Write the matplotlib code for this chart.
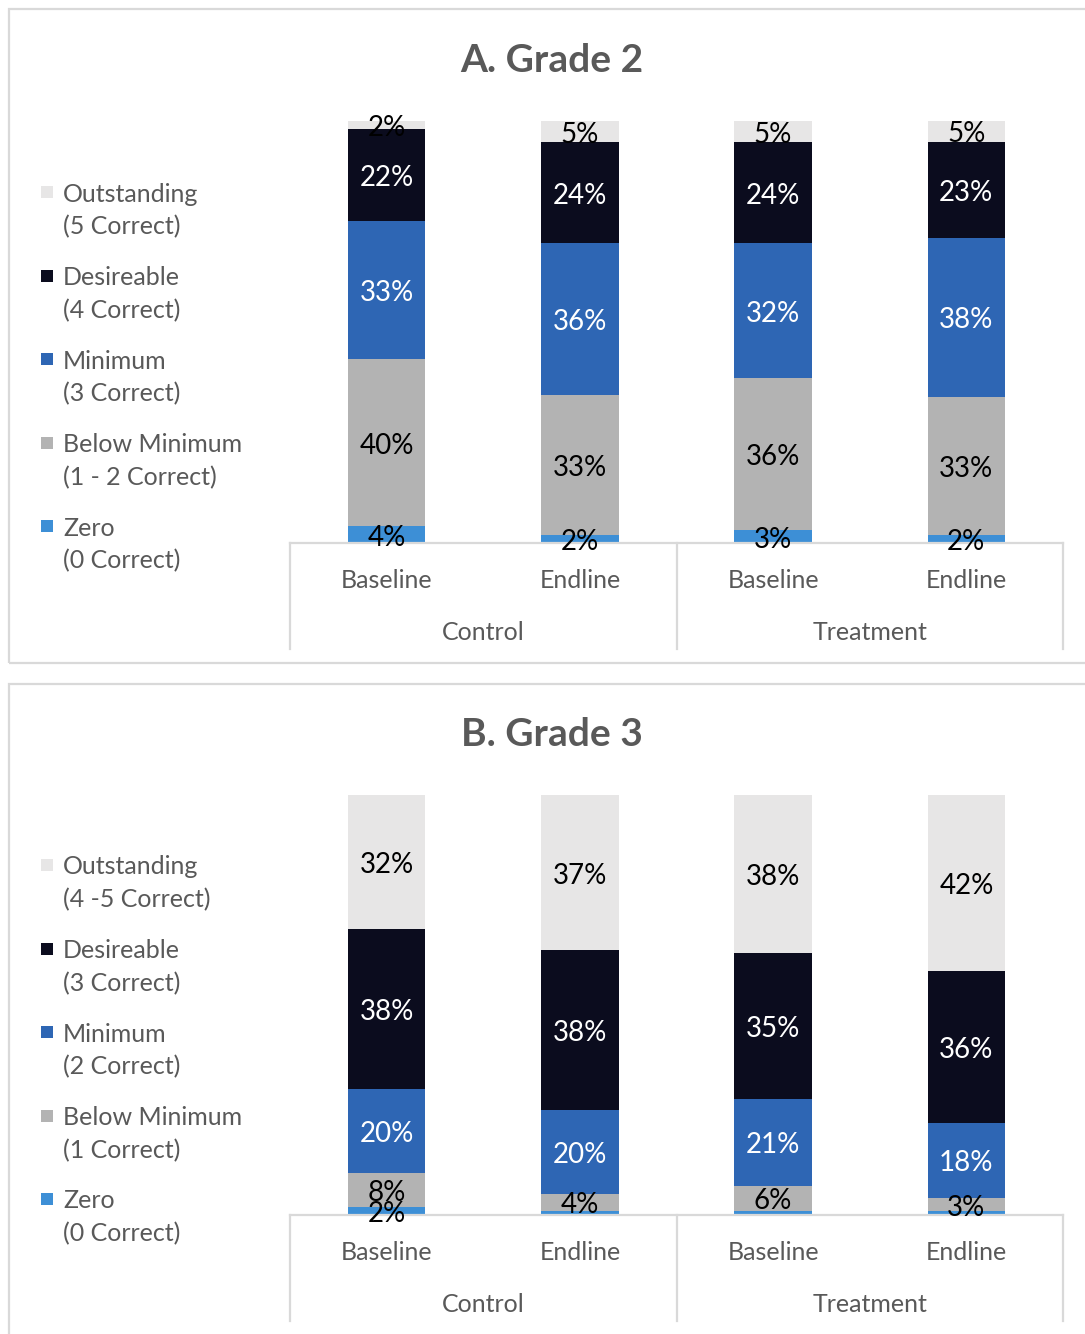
import matplotlib
matplotlib.use("Agg")
import matplotlib.pyplot as plt
from matplotlib.patches import Rectangle
from matplotlib import transforms
import numpy as np

plt.rcParams['font.family'] = ['Lato', 'DejaVu Sans']

W, H = 1085, 1334

# categories
groups = ['Control', 'Treatment']
rounds = ['Baseline', 'Endline', 'Baseline', 'Endline']
series = ['Zero', 'Below Minimum', 'Minimum', 'Desireable', 'Outstanding']
colors = ['#3D8FD6', '#B3B3B3', '#2E66B4', '#0B0C1E', '#E7E6E6']
label_colors = ['black', 'black', 'white', 'white', 'black']

# grade 2 values (%), order: Zero, Below Min, Minimum, Desireable, Outstanding
g2_zero = [4, 2, 3, 2]
g2_below = [40, 33, 36, 33]
g2_min = [33, 36, 32, 38]
g2_des = [22, 24, 24, 23]
g2_out = [2, 5, 5, 5]
g2_legend = ['Outstanding\n(5 Correct)', 'Desireable\n(4 Correct)', 'Minimum\n(3 Correct)',
             'Below Minimum\n(1 - 2 Correct)', 'Zero\n(0 Correct)']

# grade 3 values (%)
g3_zero = [2, 1, 1, 1]
g3_below = [8, 4, 6, 3]
g3_min = [20, 20, 21, 18]
g3_des = [38, 38, 35, 36]
g3_out = [32, 37, 38, 42]
g3_legend = ['Outstanding\n(4 -5 Correct)', 'Desireable\n(3 Correct)', 'Minimum\n(2 Correct)',
             'Below Minimum\n(1 Correct)', 'Zero\n(0 Correct)']

GRAY = '#595959'
LINE = '#D9D9D9'

fig = plt.figure(figsize=(W / 100, H / 100), dpi=100)


def fx(px):
    return px / W


def fy(py):
    return 1 - py / H


def panel(title, data, legend_labels, top, bottom, box_top, box_bottom, title_y, leg_y):
    # frame around the panel
    fig.patches.append(Rectangle((fx(9), fy(box_bottom)), fx(1200), (box_bottom - box_top) / H,
                                 transform=fig.transFigure, fill=False, edgecolor=LINE, lw=1.6))
    fig.text(fx(552), fy(title_y), title, ha='center', va='center', fontsize=28,
             fontweight='bold', color=GRAY)

    ax = fig.add_axes([fx(290), fy(bottom), fx(773), (bottom - top) / H])
    vals = np.array(data, dtype=float)
    totals = vals.sum(axis=0)
    x = np.arange(len(rounds))
    base = np.zeros(len(rounds))
    lab_tr = transforms.offset_copy(ax.transData, fig=fig, y=-3, units='dots')
    for i, s in enumerate(series):
        h = vals[i] / totals
        ax.bar(x, h, bottom=base, width=0.4, color=colors[i], label=s)
        for j in range(len(x)):
            if vals[i][j] >= 2:
                ax.text(x[j], base[j] + h[j] / 2, f"{int(vals[i][j])}%", transform=lab_tr,
                        ha='center', va='center', fontsize=20, color=label_colors[i])
        base += h
    ax.set_xlim(-0.5, 3.5)
    ax.set_ylim(0, 1)
    ax.set_yticks([])
    ax.set_xticks([])
    for sp in ['top', 'left', 'right']:
        ax.spines[sp].set_visible(False)
    ax.spines['bottom'].set_color(LINE)
    ax.spines['bottom'].set_linewidth(1.6)

    tr = ax.get_xaxis_transform()
    hpx = bottom - top
    for j, r in enumerate(rounds):
        ax.text(x[j], -38 / hpx, r, transform=tr, ha='center', va='center', fontsize=18, color=GRAY)
    for k, g in enumerate(groups):
        ax.text(2 * k + 0.5, -90 / hpx, g, transform=tr, ha='center', va='center', fontsize=18, color=GRAY)
    for sx in [-0.5, 1.5, 3.5]:
        ax.plot([sx, sx], [0, -106 / hpx], transform=tr, color=LINE, lw=1.6, clip_on=False)

    # legend, drawn by hand (Outstanding on top)
    for n, i in enumerate(range(len(series) - 1, -1, -1)):
        y0 = leg_y + n * 83.5
        fig.patches.append(Rectangle((fx(41), fy(y0 + 7)), fx(12), 12 / H, transform=fig.transFigure,
                                     facecolor=colors[i], edgecolor='none'))
        lines = legend_labels[n].split('\n')
        for m, t in enumerate(lines):
            fig.text(fx(63), fy(y0 + 3 + m * 33), t, ha='left', va='center', fontsize=18, color=GRAY)


panel('A. Grade 2', [g2_zero, g2_below, g2_min, g2_des, g2_out], g2_legend,
      121, 543, 9, 663, 60, 191)
panel('B. Grade 3', [g3_zero, g3_below, g3_min, g3_des, g3_out], g3_legend,
      795, 1215, 684, 1400, 734, 864)

fig.savefig('out.png', dpi=100)
